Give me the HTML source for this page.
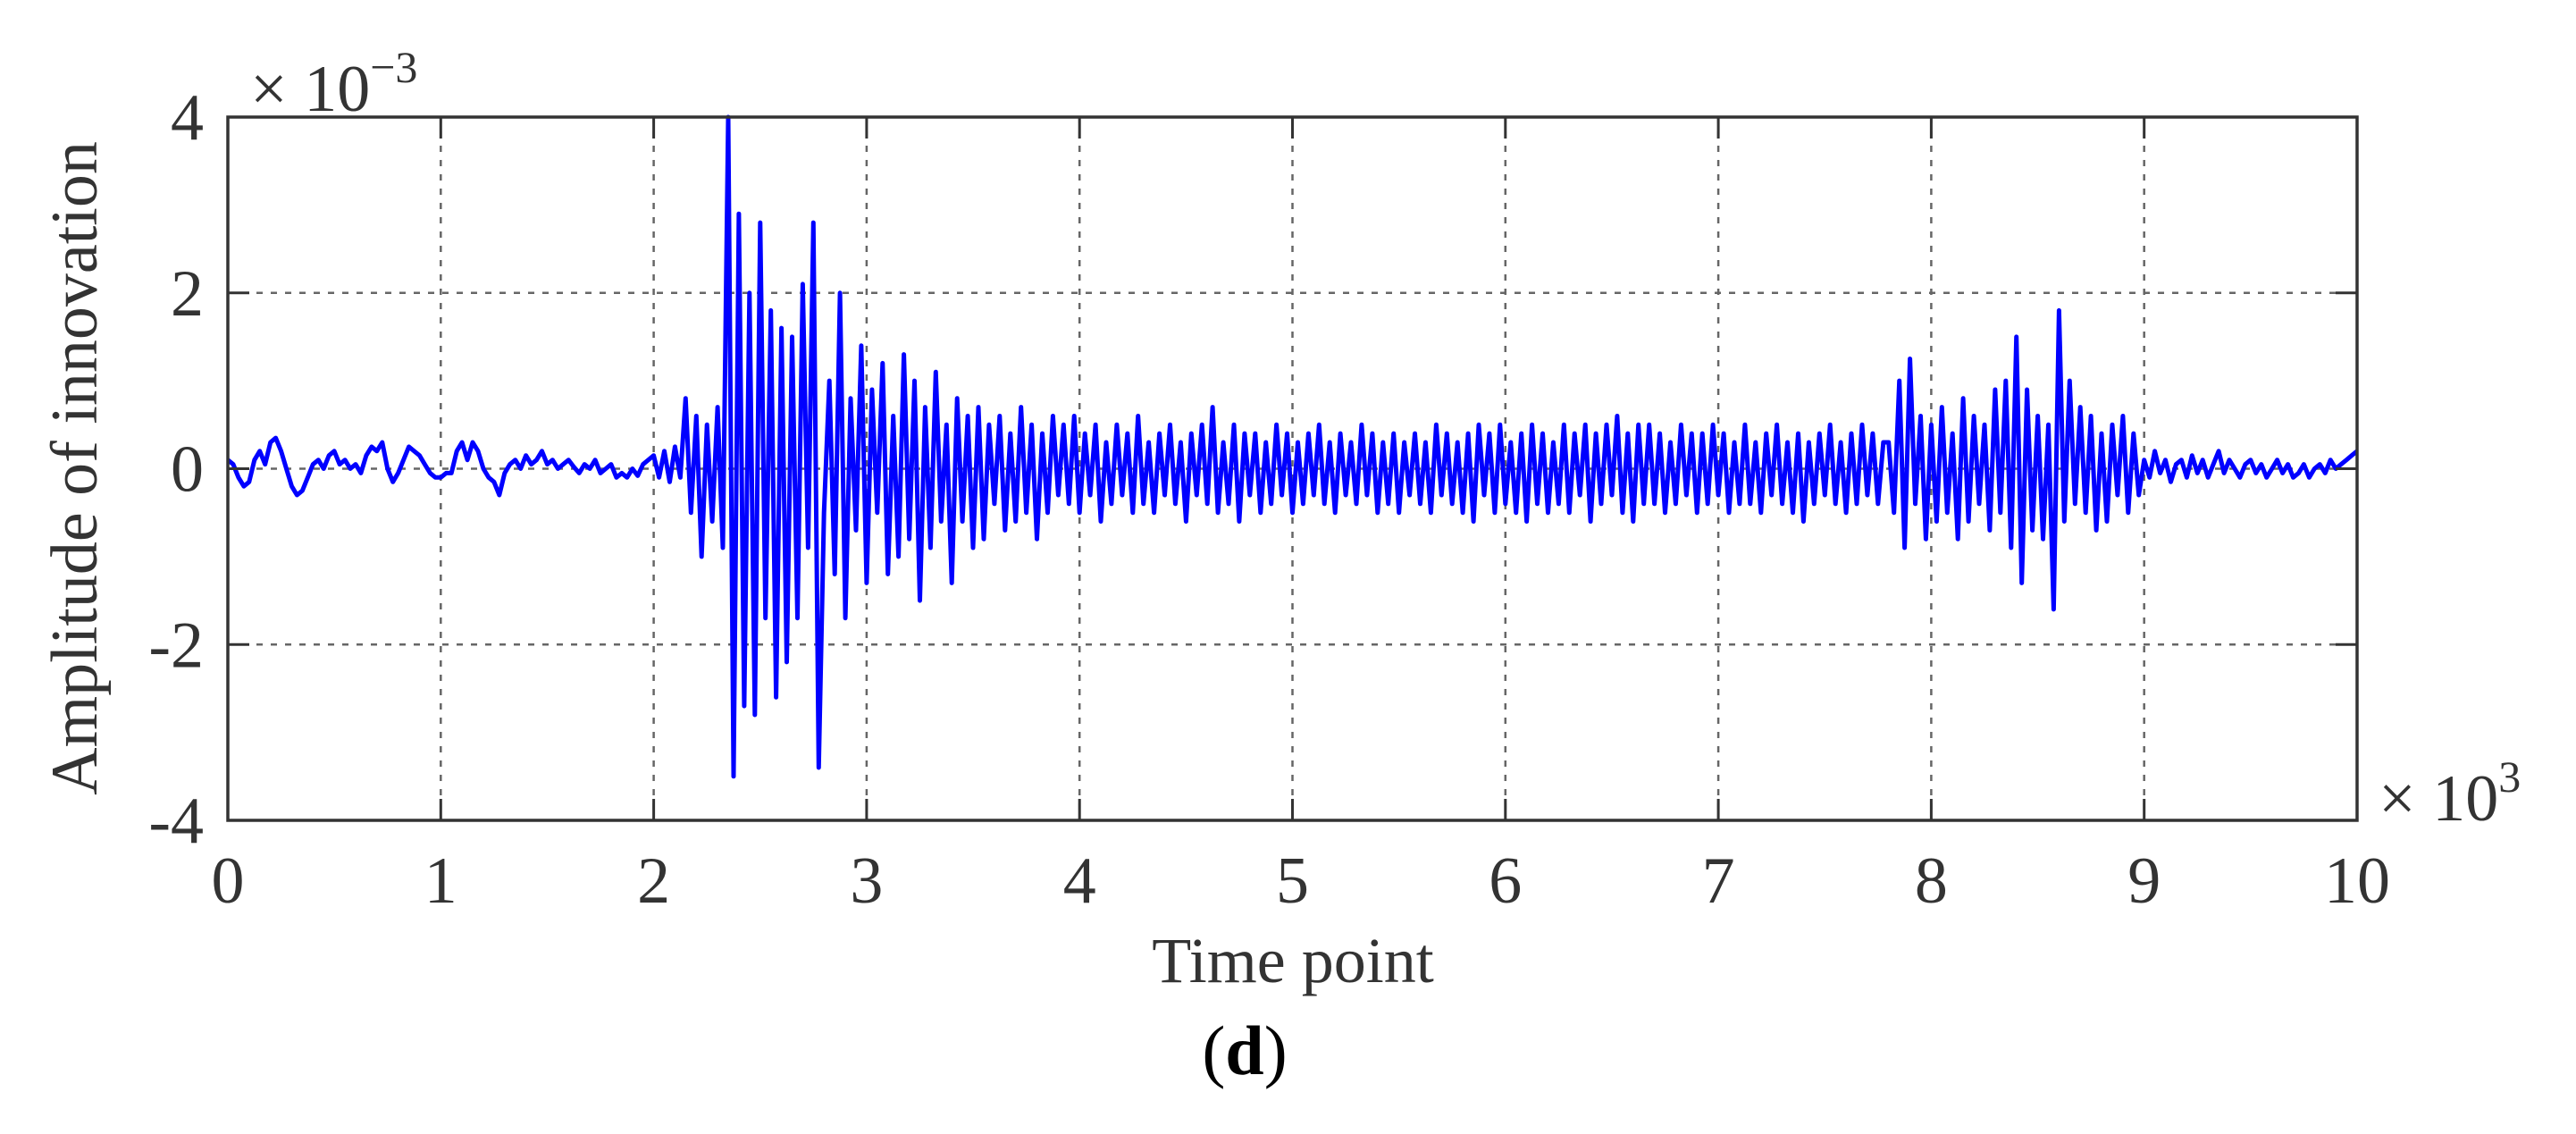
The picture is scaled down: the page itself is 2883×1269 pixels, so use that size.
<!DOCTYPE html>
<html><head><meta charset="utf-8">
<style>
html,body{margin:0;padding:0;background:#fff;}
svg{display:block;}
text{font-family:"Liberation Serif",serif;fill:#333;}
</style></head>
<body>
<svg id="chart" width="2883" height="1269" viewBox="0 0 2883 1269" xmlns="http://www.w3.org/2000/svg">
<rect x="0" y="0" width="2883" height="1269" fill="#fff"/>
<g id="grid"></g>
<g id="series"></g>
<g id="axes"></g>
<text transform="translate(108,524) rotate(-90)" text-anchor="middle" font-size="74">Amplitude of innovation</text>
<text x="1447" y="1099" text-anchor="middle" font-size="72">Time point</text>
<text x="280" y="124" font-size="74">× 10<tspan font-size="50" dy="-32">−3</tspan></text>
<text x="2662" y="918" font-size="74">× 10<tspan font-size="50" dy="-32">3</tspan></text>
<text x="1393" y="1202" text-anchor="middle" font-size="78" style="fill:#000"><tspan font-weight="normal">(</tspan><tspan font-weight="bold">d</tspan><tspan font-weight="normal">)</tspan></text>
</svg>
<script>
const xTicks = [0,1,2,3,4,5,6,7,8,9,10];
const yTicks = [-4,-2,0,2,4];
const step = 25; // time points between samples
const amp0 = [0.1,0.05,-0.1,-0.2,-0.15,0.1,0.2,0.05,0.3,0.35,0.2,0,-0.2,-0.3,-0.25,-0.1,0.05,0.1,0,0.15,0.2,0.05,0.1,0,0.05,-0.05,0.15,0.25,0.2,0.3,0,-0.15,-0.05,0.1,0.25,0.2,0.15,0.05,-0.05,-0.1];
const amp1 = [-0.1,-0.05,-0.05,0.2,0.3,0.1,0.3,0.2,0,-0.1,-0.15,-0.3,-0.05,0.05,0.1,0,0.15,0.05,0.1,0.2,0.05,0.1,0,0.05,0.1,0.02,-0.05,0.05,0,0.1,-0.05,0,0.05,-0.1,-0.05,-0.1,0,-0.08,0.05,0.1];
const amp2 = [0.15,-0.1,0.2,-0.15,0.25,-0.1,0.8,-0.5,0.6,-1,0.5,-0.6,0.7,-0.9];
const amp3 = [4,-3.5,2.9,-2.7,2,-2.8,2.8,-1.7,1.8,-2.6,1.6,-2.2,1.5,-1.7,2.1,-0.9,2.8,-3.4];
const amp4 = [-0.5,1.0,-1.2,2.0,-1.7,0.8,-0.7,1.4,-1.3,0.9,-0.5,1.2,-1.2,0.6,-1.0,1.3,-0.8,1.0,-1.5,0.7,-0.9,1.1,-0.6,0.5,-1.3,0.8,-0.6,0.6,-0.9,0.7,-0.8,0.5,-0.4,0.6,-0.7,0.4,-0.6,0.7,-0.5,0.5,-0.8,0.4,-0.5,0.6,-0.3,0.5,-0.4,0.6];
const amp5 = [-0.5,0.4,-0.3,0.5,-0.6,0.3,-0.4,0.5,-0.3,0.4,-0.5,0.6,-0.4,0.3,-0.5,0.4,
-0.3,0.5,-0.4,0.3,-0.6,0.4,-0.3,0.5,-0.4,0.7,-0.5,0.3,-0.4,0.5,-0.6,0.4,
-0.3,0.4,-0.5,0.3,-0.4,0.5,-0.3,0.4,-0.5,0.3,-0.4,0.4,-0.3,0.5,-0.4,0.3,
-0.5,0.4,-0.3,0.3,-0.4,0.5,-0.3,0.4,-0.5,0.3,-0.4,0.4,-0.5,0.3,-0.3,0.4,
-0.4,0.3,-0.5,0.5,-0.3,0.4,-0.4,0.3,-0.5,0.4,-0.6,0.5,-0.3,0.4,-0.5,0.5,
-0.4,0.3,-0.5,0.4,-0.6,0.5,-0.4,0.4,-0.5,0.3,-0.4,0.5,-0.5,0.4,-0.3,0.5,
-0.6,0.4,-0.4,0.5,-0.3,0.6,-0.5,0.4,-0.6,0.5,-0.4,0.5,-0.4,0.4,-0.5,0.3,
-0.4,0.5,-0.3,0.4,-0.5,0.4,-0.4,0.5,-0.3,0.4,-0.5,0.3,-0.4,0.5,-0.4,0.3,
-0.5,0.4,-0.3,0.5,-0.4,0.3,-0.5,0.4,-0.6,0.3,-0.4,0.4,-0.3,0.5,-0.4,0.3,
-0.5,0.4,-0.4,0.5,-0.3,0.4,-0.4,0.3];
const amp6 = [0.3,-0.5,1.0,-0.9,1.25,-0.4,0.6,-0.8];
const amp7 = [0.5,-0.6,0.7,-0.5,0.4,-0.8,0.8,-0.6,0.6,-0.4,0.5,-0.7,0.9,-0.5,1.0,-0.9];
const amp8 = [1.5,-1.3,0.9,-0.7,0.6,-0.8,0.5,-1.6,1.8,-0.6,1.0,-0.4];
const amp9 = [0.7,-0.5,0.6,-0.7,0.4,-0.6,0.5,-0.3,0.6,-0.5,0.4,-0.3];
const amp10 = [0.1,-0.1,0.2,-0.05,0.1,-0.15,0.05,0.1,-0.1,0.15,-0.05,0.1,-0.1,0.05,0.2,-0.05,0.1,0,-0.1,0.05,0.1,-0.05,0.05,-0.1,0,0.1,-0.05,0.05,-0.1,-0.05,0.05,-0.1,0,0.05,-0.05,0.1,0,0.05,0.1,0.15,0.2];

const L=255,R=2638,T=131,B=918;
const xs = v => L + (v-0)/(10-0)*(R-L);
const ys = v => B - (v+4)/8*(B-T);
const NS='http://www.w3.org/2000/svg';
const grid=document.getElementById('grid'), axes=document.getElementById('axes'), ser=document.getElementById('series');
function mk(tag,attrs,parent){const e=document.createElementNS(NS,tag);for(const k in attrs)e.setAttribute(k,attrs[k]);parent.appendChild(e);return e;}

xTicks.forEach(t=>{
  const x=xs(t);
  if(t>0&&t<10){
    const g=mk('line',{x1:x,x2:x,y1:T,y2:B,stroke:'#666','stroke-width':2.5,'stroke-dasharray':'7,9'},grid);
    
    
    const a=mk('line',{x1:x,x2:x,y1:B,y2:B-24,stroke:'#333','stroke-width':3},axes);
    
    
    const b=mk('line',{x1:x,x2:x,y1:T,y2:T+24,stroke:'#333','stroke-width':3},axes);
    
    
  }
  const tx=mk('text',{x:x,y:1010,'text-anchor':'middle','font-size':74},axes);
  tx.textContent=String(t);
  
  
});
yTicks.forEach(t=>{
  const y=ys(t);
  if(t>-4&&t<4){
    const g=mk('line',{x1:L,x2:R,y1:y,y2:y,stroke:'#666','stroke-width':2.5,'stroke-dasharray':'7,9'},grid);
    
    
    const a=mk('line',{x1:L,x2:L+24,y1:y,y2:y,stroke:'#333','stroke-width':3},axes);
    
    
    const b=mk('line',{x1:R,x2:R-24,y1:y,y2:y,stroke:'#333','stroke-width':3},axes);
    
    
  }
  const tx=mk('text',{x:228,y:y+25,'text-anchor':'end','font-size':74},axes);
  tx.textContent=String(t);
  
  
});
const frame=mk('rect',{x:L,y:T,width:R-L,height:B-T,fill:'none',stroke:'#333','stroke-width':3.5},axes);



const amps=[].concat(amp0,amp1,amp2,amp3,amp4,amp5,amp6,amp7,amp8,amp9,amp10);
let d='';
amps.forEach((v,i)=>{const t=i*step/1000; const vv=Math.max(-4,Math.min(4,v)); d+=(i?'L':'M')+xs(Math.min(t,10)).toFixed(1)+','+ys(vv).toFixed(1);});
const p=mk('path',{d:d,fill:'none',stroke:'#0000ff','stroke-width':5,'stroke-linejoin':'round'},ser);


</script>
</body></html>
